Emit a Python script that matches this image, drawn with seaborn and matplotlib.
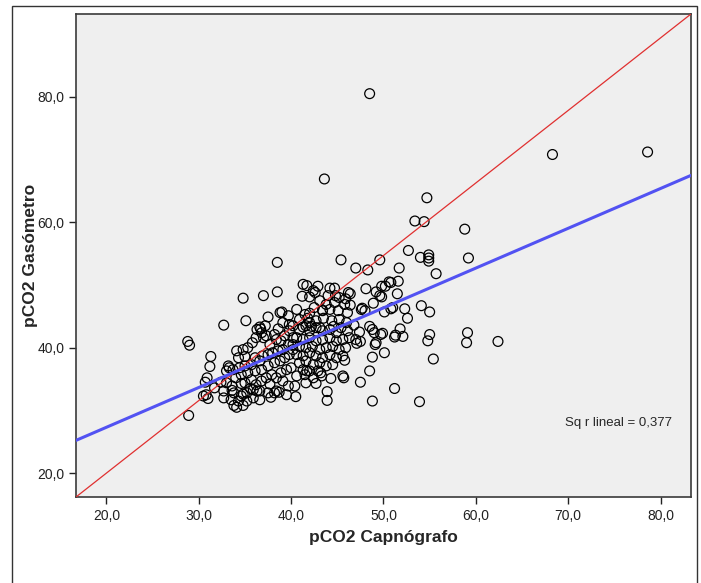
import matplotlib
matplotlib.use("Agg")
import matplotlib.pyplot as plt
from matplotlib.patches import Rectangle
from matplotlib.ticker import FuncFormatter
import pandas as pd
import seaborn as sns

# values (pCO2 capnograph vs blood gas)
capnografo = [
    48.5, 68.3, 78.6, 43.6, 54.7, 53.4, 54.4, 58.8, 52.7, 54.0, 54.9, 54.9, 54.9, 59.2, 55.7, 38.5,
    45.4, 49.6, 47.0, 48.3, 51.7, 51.6, 50.6, 50.2, 50.8, 51.5, 49.8, 49.2, 48.1, 48.9, 47.7, 48.0,
    50.1, 50.8, 51.0, 52.3, 52.6, 54.1, 55.0, 37.0, 34.8, 38.5, 35.1, 32.7, 37.5, 41.3, 41.7, 42.9,
    41.2, 42.0, 44.2, 44.7, 46.2, 46.4, 42.6, 44.8, 45.9, 46.4, 40.6, 39.0, 42.0, 43.4,
    47.4, 48.8, 49.0, 49.9, 51.3, 51.8, 52.1, 51.2, 55.0, 54.8, 59.1, 59.0, 62.4, 49.2, 49.1, 47.5,
    47.1, 50.1, 48.8, 55.4, 48.5, 47.5, 51.2, 48.8, 53.9, 43.9, 43.9, 45.6, 45.7, 44.3, 45.8,
    28.8, 29.0, 28.9, 31.3, 31.2, 30.9, 30.7, 30.8, 31.0, 32.7, 31.7, 32.4, 33.0, 33.3, 33.6, 33.5,
    33.8, 34.1, 34.8, 34.1, 34.8, 35.0, 34.6, 34.8, 35.6, 35.9, 36.3, 36.6, 36.7, 37.7, 37.8, 38.7,
    40.4, 40.5, 41.6, 41.7, 42.7, 43.2,
    34.3, 35.3, 35.8, 36.2, 36.3, 36.8, 37.2, 37.0, 37.7, 38.2, 38.6, 38.4, 38.9, 39.3, 39.8, 40.2,
    39.7, 39.1, 38.6, 38.0, 37.5, 36.9, 36.6, 36.1, 35.7, 35.0, 34.4, 33.7, 33.2, 34.0, 34.6, 35.3,
    36.1, 36.8, 37.5, 38.2, 38.8, 39.3, 39.8, 40.2, 35.0, 35.7, 36.2, 36.8, 37.3, 37.9, 38.4, 38.9,
    39.5, 40.0, 39.1, 39.7, 38.4, 37.5, 36.6, 35.9, 35.2, 34.6, 34.3, 35.2, 36.6, 38.2, 39.5, 30.5,
    32.7, 33.0, 33.6, 33.8,
    40.2, 40.9, 41.6, 42.0, 42.7, 43.4, 44.2, 44.9, 45.4, 46.1, 49.7, 40.6, 41.3, 42.0, 42.7, 43.4,
    44.2, 44.9, 45.6, 46.3, 47.0, 40.2, 40.9, 41.6, 42.3, 43.1, 43.8, 44.5, 45.2, 45.9, 40.6, 41.3,
    42.0, 42.7, 43.4, 44.2, 44.9, 45.6, 40.9, 41.6, 42.4, 43.1, 43.8, 44.5, 41.3, 42.0, 42.9, 40.6,
    41.5, 42.4, 43.3,
    42.4, 44.0, 45.2, 49.8, 49.6, 44.7, 45.8, 43.8, 43.1, 43.4, 44.2, 45.1, 46.1, 40.9, 41.8, 42.7,
    43.5, 44.4, 45.2, 46.0, 47.6, 41.3, 42.2, 43.1, 44.6, 46.8, 48.5,
    38.8, 39.7, 37.3, 39.1, 39.8, 42.5, 41.5, 42.0,
]
gasometro = [
    80.5, 70.8, 71.2, 66.9, 63.9, 60.2, 60.1, 58.9, 55.5, 54.4, 54.8, 54.3, 53.8, 54.3, 51.8, 53.6,
    54.0, 54.0, 52.7, 52.4, 52.7, 50.6, 50.5, 49.8, 50.4, 48.6, 48.1, 48.9, 49.4, 47.1, 46.3, 45.9,
    45.7, 46.2, 46.4, 46.2, 44.7, 46.7, 45.7, 48.3, 47.9, 48.9, 44.3, 43.6, 44.9, 50.1, 49.9, 49.8,
    48.2, 48.1, 49.5, 49.5, 48.8, 48.6, 48.8, 48.3, 47.8, 46.8, 46.1, 45.7, 45.5, 46.0,
    42.5, 42.9, 42.4, 42.3, 42.0, 43.0, 41.8, 41.7, 42.1, 41.1, 42.4, 40.8, 41.0, 40.8, 40.5, 41.0,
    40.7, 39.2, 38.5, 38.2, 36.3, 34.5, 33.5, 31.5, 31.4, 33.0, 31.6, 35.5, 35.2, 35.1, 38.0,
    41.0, 40.4, 29.2, 38.6, 37.0, 35.2, 34.5, 32.5, 31.9, 32.0, 33.6, 34.5, 36.3, 36.8, 33.2, 31.7,
    30.8, 30.5, 30.8, 39.5, 39.7, 38.6, 34.3, 32.6, 33.5, 32.0, 33.1, 43.3, 43.0, 34.2, 32.1, 32.9,
    33.9, 32.2, 34.4, 36.3, 34.3, 36.0,
    38.4, 40.0, 40.8, 41.6, 42.9, 42.4, 43.5, 41.6, 40.5, 42.1, 43.0, 41.3, 41.1, 41.9, 42.7, 41.6,
    40.5, 39.7, 39.5, 39.2, 38.9, 38.7, 37.9, 38.4, 37.3, 37.1, 36.8, 36.5, 37.1, 35.2, 35.7, 36.0,
    36.3, 36.5, 37.1, 37.6, 37.9, 38.4, 38.9, 39.7, 34.4, 34.9, 34.1, 34.7, 35.2, 35.7, 35.2, 36.0,
    36.5, 36.8, 34.7, 33.9, 33.1, 32.8, 33.1, 33.3, 32.8, 32.3, 31.5, 31.5, 31.7, 32.8, 32.5, 32.3,
    33.1, 34.4, 33.9, 32.8,
    43.5, 42.9, 43.5, 42.7, 43.2, 42.7, 42.9, 42.4, 43.2, 42.7, 42.1, 41.6, 41.3, 41.6, 41.1, 41.3,
    41.6, 41.1, 41.3, 41.6, 41.3, 40.5, 40.2, 40.0, 40.2, 39.7, 40.0, 40.2, 39.7, 40.0, 38.9, 38.7,
    39.2, 38.7, 38.4, 38.9, 38.4, 38.7, 37.6, 37.9, 37.3, 37.6, 37.1, 37.3, 36.5, 36.3, 36.3, 35.5,
    35.7, 35.2, 35.5,
    49.1, 48.3, 48.0, 49.8, 48.3, 47.2, 46.9, 46.9, 47.5, 45.9, 46.1, 45.9, 45.6, 44.5, 44.7, 44.3,
    44.7, 44.3, 44.5, 44.0, 46.1, 43.3, 43.4, 43.2, 43.4, 43.6, 43.4,
    45.6, 45.1, 41.9, 44.0, 43.7, 46.4, 45.3, 44.0,
]

x_ticks = [20, 30, 40, 50, 60, 70, 80]
y_ticks = [20, 40, 60, 80]
x_label = "pCO2 Capnógrafo"
y_label = "pCO2 Gasómetro"
fit_label = "Sq r lineal = 0,377"

df = pd.DataFrame({x_label: capnografo, y_label: gasometro})

sns.set_style("ticks", {"axes.facecolor": "#efefef", "axes.edgecolor": "#3a3a3a"})
plt.rcParams["font.family"] = ["Liberation Sans", "DejaVu Sans"]

fig, ax = plt.subplots(figsize=(7.01, 5.83), dpi=100)
fig.subplots_adjust(left=0.1084, right=0.9857, top=0.976, bottom=0.1475)

ax.set_xlim(16.7, 83.3)
ax.set_ylim(16.2, 93.2)

sns.scatterplot(data=df, x=x_label, y=y_label, marker="o", s=50,
                edgecolor="black", linewidth=0.9, ax=ax, zorder=2)
ax.collections[0].set_facecolor("none")

# diagonal reference line across the plot box
ax.plot([0, 1], [0, 1], transform=ax.transAxes, color="#e03030", lw=0.9, zorder=3)

# linear fit, extended to the axis limits
sns.regplot(data=df, x=x_label, y=y_label, scatter=False, ci=None, truncate=False,
            line_kws={"color": "#5252f2", "lw": 2.2, "zorder": 4}, ax=ax)

ax.set_xlim(16.7, 83.3)
ax.set_ylim(16.2, 93.2)
ax.set_xticks(x_ticks)
ax.set_yticks(y_ticks)
comma = FuncFormatter(lambda v, _: f"{v:.1f}".replace(".", ","))
ax.xaxis.set_major_formatter(comma)
ax.yaxis.set_major_formatter(comma)
ax.tick_params(axis="both", length=5, width=1, labelsize=10, colors="#222222")
for s in ax.spines.values():
    s.set_linewidth(1.2)
    s.set_visible(True)

ax.set_xlabel(x_label, fontsize=12.5, fontweight="bold", labelpad=5)
ax.set_ylabel(y_label, fontsize=12.5, fontweight="bold", labelpad=-1)

ax.text(0.795, 0.153, fit_label, transform=ax.transAxes, fontsize=9.5, va="center")

# outer frame of the SPSS output box
fig.add_artist(Rectangle((12 / 701, -0.05), 685 / 701, 1.05 - 6 / 583,
                         transform=fig.transFigure, fill=False, ec="#333333", lw=1))

fig.savefig("out.png", dpi=100)
